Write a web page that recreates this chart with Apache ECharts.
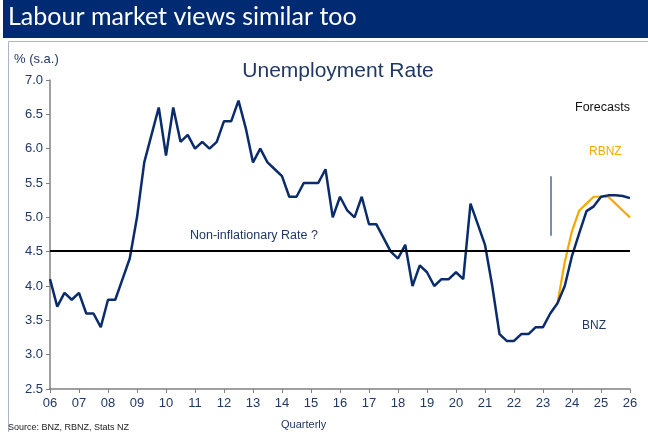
<!DOCTYPE html>
<html><head><meta charset="utf-8">
<script src="https://cdn.jsdelivr.net/npm/echarts@6/dist/echarts.min.js"></script>
<style>html,body{margin:0;padding:0;background:#fff}#c{width:648px;height:432px}</style>
</head><body><div id="c"></div>
<script>
var yearLabels = ['06','07','08','09','10','11','12','13','14','15','16','17','18','19','20','21','22','23','24','25','26'];
var quarterNames = ['Q1','Q2','Q3','Q4'];
var categories = [];
yearLabels.forEach(function(y, k){
  quarterNames.forEach(function(q, j){
    if (k < yearLabels.length - 1 || j === 0) categories.push(y + q);
  });
});
var bnz = [4.1,3.7,3.9,3.8, 3.9,3.6,3.6,3.4, 3.8,3.8,4.1,4.4, 5.0,5.8,6.2,6.6,
  5.9,6.6,6.1,6.2, 6.0,6.1,6.0,6.1, 6.4,6.4,6.7,6.3, 5.8,6.0,5.8,5.7,
  5.6,5.3,5.3,5.5, 5.5,5.5,5.7,5.0, 5.3,5.1,5.0,5.3, 4.9,4.9,4.7,4.5,
  4.4,4.6,4.0,4.3, 4.2,4.0,4.1,4.1, 4.2,4.1,5.2,4.9, 4.6,4.0,3.3,3.2,
  3.2,3.3,3.3,3.4, 3.4,3.6,3.75,4.0, 4.44,4.77,5.09,5.16, 5.3,5.32,5.32,5.31, 5.28];
var rbnz = [null,null,null,null,null,null,null,null,null,null,null,null,null,null,null,null,
  null,null,null,null,null,null,null,null,null,null,null,null,null,null,null,null,
  null,null,null,null,null,null,null,null,null,null,null,null,null,null,null,null,
  null,null,null,null,null,null,null,null,null,null,null,null,null,null,null,null,
  null,null,null,null,null,null,3.75,4.35, 4.8,5.1,5.2,5.3, 5.3,5.3,5.2,5.1, 5.0];
var nairu = 4.52;
var forecastMarker = {cat: '23Q2', top: 5.6, bottom: 4.73};
var yTicks = {min: 2.5, max: 7.0, interval: 0.5};

var navy = '#1F3864';
var chart = echarts.init(document.getElementById('c'), null, {renderer: 'canvas'});
chart.setOption({
  animation: false,
  textStyle: {fontFamily: 'Liberation Sans'},
  grid: {left: 50, right: 18, top: 80, bottom: 43, containLabel: false},
  title: {text: 'Unemployment Rate', left: 333, top: 56, textAlign: 'center',
    textStyle: {fontSize: 21, fontWeight: 'normal', color: navy, fontFamily: 'Liberation Sans'}},
  xAxis: {type: 'category', data: categories, boundaryGap: false,
    axisLine: {lineStyle: {color: '#808080', width: 1.5}},
    axisTick: {interval: 3, length: 4, lineStyle: {color: '#808080'}},
    axisLabel: {interval: 3, color: navy, fontSize: 13, margin: 8,
      formatter: function(v){ return v.slice(0,2); }},
    splitLine: {show: false}},
  yAxis: {type: 'value', min: yTicks.min, max: yTicks.max, interval: yTicks.interval,
    axisLine: {show: true, lineStyle: {color: '#808080', width: 1.5}},
    axisTick: {show: true, length: 4, lineStyle: {color: '#808080'}},
    axisLabel: {color: navy, fontSize: 13, margin: 7, formatter: function(v){ return v.toFixed(1); }},
    splitLine: {show: false}},
  series: [
    {name: 'RBNZ', type: 'line', data: rbnz, symbol: 'none', connectNulls: false,
      lineStyle: {color: '#F5A800', width: 2.2}, z: 2},
    {name: 'BNZ', type: 'line', data: bnz, symbol: 'none',
      lineStyle: {color: '#0B2C6B', width: 2.5}, z: 3,
      markLine: {symbol: 'none', silent: true, label: {show: false},
        data: [
          {yAxis: nairu, lineStyle: {color: '#000', width: 2, type: 'solid'}},
          [{coord: [forecastMarker.cat, forecastMarker.top], lineStyle: {color: '#4A6A9A', width: 1.5, type: 'solid'}},
           {coord: [forecastMarker.cat, forecastMarker.bottom]}]
        ]}}
  ],
  graphic: [
    {type: 'rect', shape: {x: 3, y: 0, width: 645, height: 38}, style: {fill: '#002B72'}},
    {type: 'text', left: 8, top: 4, style: {text: 'Labour market views similar too', fill: '#fff', font: '25px Lato'}},
    {type: 'rect', shape: {x: 8.5, y: 41.5, width: 660, height: 420}, style: {fill: 'none', stroke: '#A9B6CC', lineWidth: 1}},
    {type: 'text', left: 14, top: 53, style: {text: '% (s.a.)', fill: navy, font: '13px Liberation Sans'}},
    {type: 'text', left: 190, top: 229, style: {text: 'Non-inflationary Rate ?', fill: navy, font: '12.5px Liberation Sans'}},
    {type: 'text', left: 575, top: 101, style: {text: 'Forecasts', fill: '#111', font: '12.5px Liberation Sans'}},
    {type: 'text', left: 589, top: 146, style: {text: 'RBNZ', fill: '#F5A800', font: '12px Liberation Sans'}},
    {type: 'text', left: 582, top: 320, style: {text: 'BNZ', fill: navy, font: '12px Liberation Sans'}},
    {type: 'text', left: 8, top: 423, style: {text: 'Source: BNZ, RBNZ, Stats NZ', fill: '#222', font: '9px Liberation Sans'}},
    {type: 'text', left: 281, top: 419, style: {text: 'Quarterly', fill: navy, font: '11px Liberation Sans'}}
  ]
});
</script></body></html>
